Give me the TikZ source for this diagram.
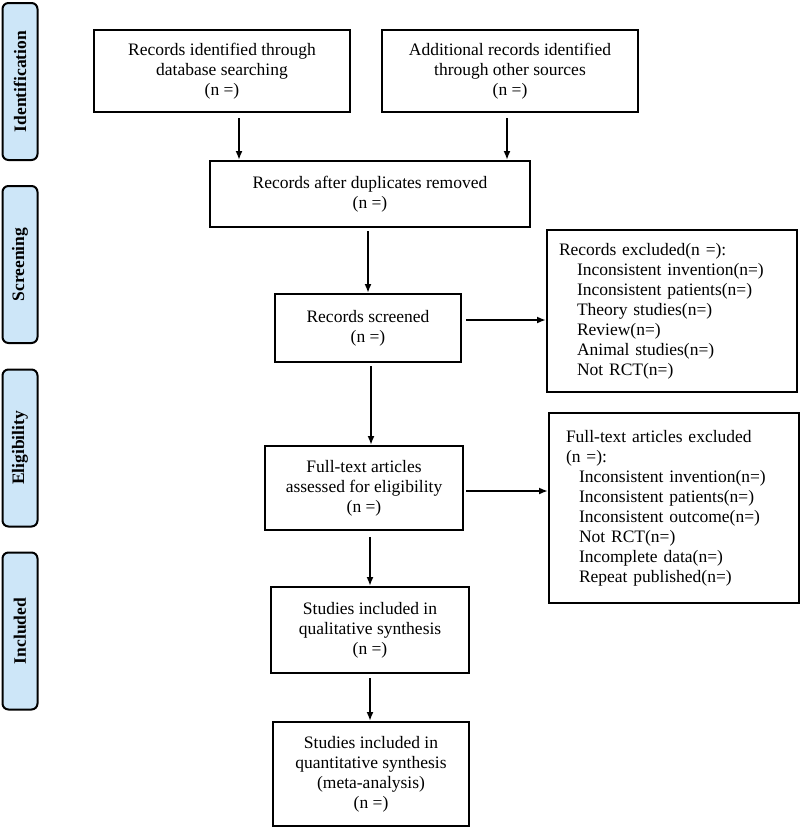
\documentclass[tikz,border=0pt]{standalone}
\usepackage{fontspec}
\setmainfont{Liberation Serif}
\usetikzlibrary{arrows.meta}
\definecolor{tabblue}{RGB}{205,230,248}
\newcommand{\txt}[0] {\fontsize{17.5}{20}\selectfont}

\begin{document}
\begin{tikzpicture}[x=1pt,y=-1pt,font=\txt,
    box/.style={shape=rectangle,draw=black,line width=2pt,align=center,inner sep=0pt},
    exbox/.style={shape=rectangle,draw=black,line width=2pt,align=left,inner ysep=0pt},
    stagetab/.style={shape=rectangle,draw=black,line width=2pt,rounded corners=6pt,fill=tabblue,
        rotate=90,minimum width=157pt,minimum height=35pt,font=\txt\bfseries},
    arr/.style={-{Latex[length=9pt,width=7pt]},line width=2pt}]
        \useasboundingbox (0,0) rectangle (800,830);

        %stage tabs
        \node[stagetab] (ident) at (20,81.5)  {Identification};
        \node[stagetab] (screen) at (20,264.5) {Screening};
        \node[stagetab] (elig) at (20,448)    {Eligibility};
        \node[stagetab] (incl) at (20,631)    {Included};

        %main column
        \node[box,minimum width=256pt,minimum height=82pt] (recdb) at (222,71)
            {Records identified through\\database searching\\(n =)};
        \node[box,minimum width=256pt,minimum height=82pt] (recother) at (510,71)
            {Additional records identified\\through other sources\\(n =)};
        \node[box,minimum width=320pt,minimum height=66pt] (dup) at (370,194)
            {Records after duplicates removed\\(n =)};
        \node[box,minimum width=186pt,minimum height=68pt] (screened) at (368,328)
            {Records screened\\(n =)};
        \node[box,minimum width=198pt,minimum height=84pt] (fulltext) at (364,488)
            {Full-text articles\\assessed for eligibility\\(n =)};
        \node[box,minimum width=198pt,minimum height=86pt] (qual) at (370,630)
            {Studies included in\\qualitative synthesis\\(n =)};
        \node[box,minimum width=196pt,minimum height=104pt] (quant) at (371,774)
            {Studies included in\\quantitative synthesis\\(meta-analysis)\\(n =)};

        %exclusion boxes
        \node[exbox,text width=226pt,inner xsep=12pt,minimum height=162pt] (excl) at (672,311)
            {Records excluded(n =):\\
             \hspace*{18pt}Inconsistent invention(n=)\\
             \hspace*{18pt}Inconsistent patients(n=)\\
             \hspace*{18pt}Theory studies(n=)\\
             \hspace*{18pt}Review(n=)\\
             \hspace*{18pt}Animal studies(n=)\\
             \hspace*{18pt}Not RCT(n=)};
        \node[exbox,text width=216pt,inner xsep=17pt,minimum height=190pt] (ftexcl) at (674,508)
            {Full-text articles excluded\\
             (n =):\\
             \hspace*{13pt}Inconsistent invention(n=)\\
             \hspace*{13pt}Inconsistent patients(n=)\\
             \hspace*{13pt}Inconsistent outcome(n=)\\
             \hspace*{13pt}Not RCT(n=)\\
             \hspace*{13pt}Incomplete data(n=)\\
             \hspace*{13pt}Repeat published(n=)};

        %edges between the boxes
        \path[arr] ([xshift=17pt,yshift=-5pt]recdb.south) edge ([xshift=17pt]recdb.south |- dup.north);
        \path[arr] ([xshift=-3pt,yshift=-5pt]recother.south) edge ([xshift=-3pt]recother.south |- dup.north);
        \path[arr] ([yshift=-3pt]screened.north |- dup.south) edge (screened.north);
        \path[arr] ([xshift=3pt,yshift=-3pt]screened.south) edge ([xshift=3pt]screened.south |- fulltext.north);
        \path[arr] ([xshift=6pt,yshift=-6pt]fulltext.south) edge ([xshift=6pt]fulltext.south |- qual.north);
        \path[arr] ([yshift=-4pt]qual.south) edge (qual.south |- quant.north);
        \path[arr] ([xshift=4pt,yshift=8pt]screened.east) edge ([yshift=8pt]screened.east -| excl.west);
        \path[arr] ([xshift=2pt,yshift=-3pt]fulltext.east) edge ([yshift=-3pt]fulltext.east -| ftexcl.west);
\end{tikzpicture}
\end{document}
